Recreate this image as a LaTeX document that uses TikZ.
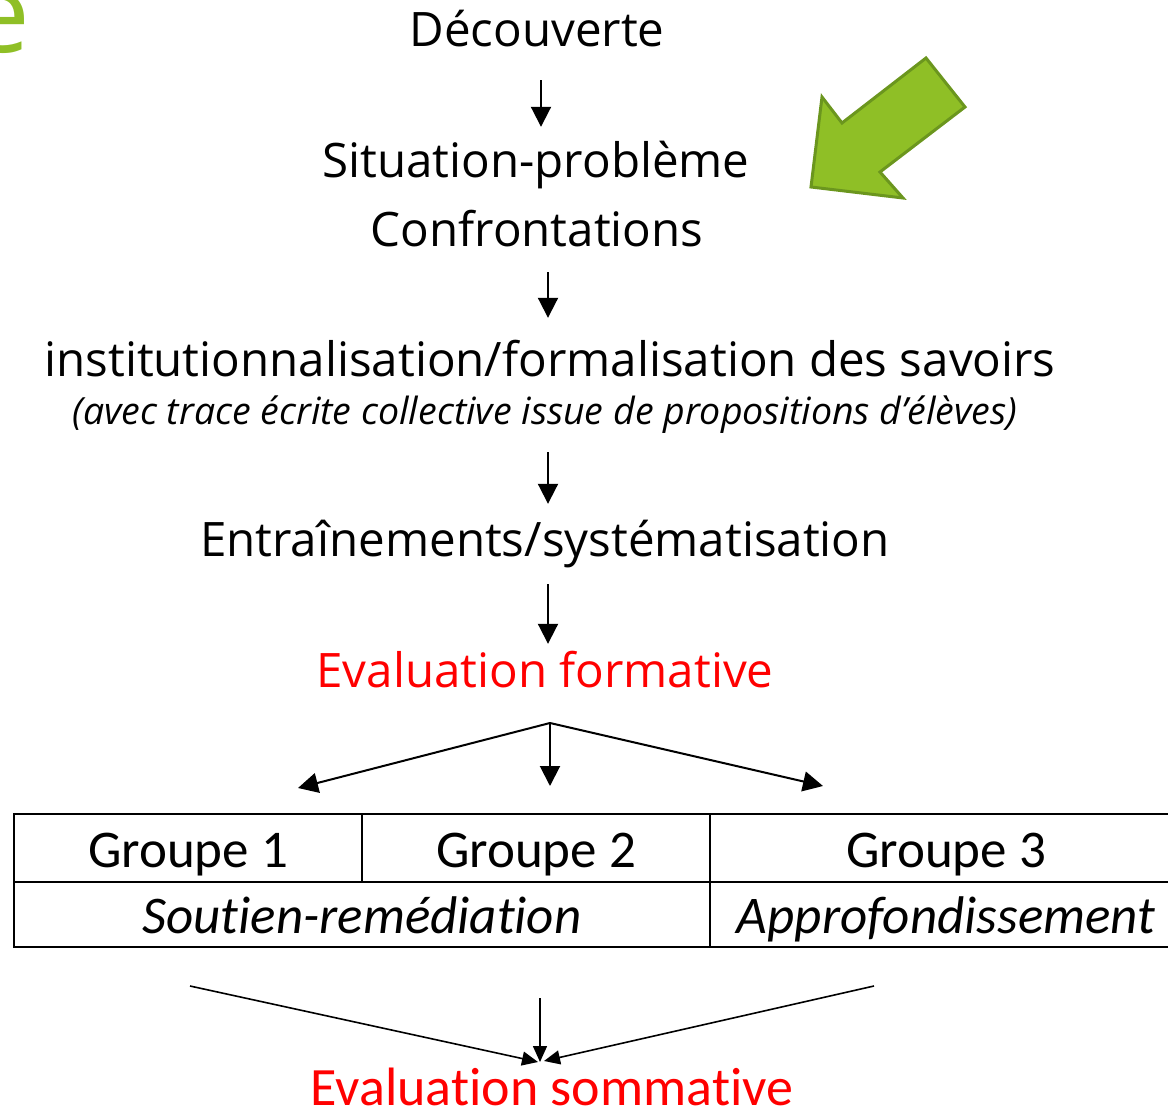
\documentclass[tikz,border=0pt]{standalone}
\usepackage{fontspec}
\setmainfont{Open Sans}
\newfontfamily\tabfont[Ligatures=NoCommon]{Carlito}
\usepackage{tikz}
\usetikzlibrary{arrows.meta, positioning, calc}

\definecolor{leafgreen}{RGB}{143,191,38}
\definecolor{leafdark}{RGB}{107,150,30}
\definecolor{evalred}{RGB}{255,0,0}

\begin{document}
\begin{tikzpicture}[x=1pt, y=-1pt,
    stage/.style={anchor=base, inner sep=0, text height=36pt, text depth=10pt,
      font=\fontsize{47.5}{50}\selectfont},
    note/.style={anchor=base, inner sep=0, text height=36pt, text depth=10pt,
      font=\fontsize{37.5}{40}\selectfont\itshape},
    cell/.style={draw, line width=2pt, inner sep=0, text height=48pt, text depth=10pt,
      font=\tabfont\fontsize{53}{56}\selectfont},
    flow/.style={line width=2pt, -{Triangle[length=20pt, width=20pt]}},
    merge/.style={line width=1.6pt, -{Triangle[length=16pt, width=14pt]}}]

  \useasboundingbox (0,0) rectangle (1168,1110);

  % green title tail and pointer
  \node[anchor=base east, inner sep=0, text=leafgreen, font=\fontsize{110}{110}\selectfont] (headtail) at (30,53) {e};
  \draw[leafdark, line width=3pt, fill=leafgreen] (811,187) -- (822,97) -- (842,123) -- (926,58)
    -- (965,107) -- (880,172) -- (903,198) -- cycle;

  % steps
  \node[stage] (decouv) at (537,47) {Découverte};
  \node[stage] (situ) at (536,178) {Situation-problème};
  \node[stage] (confr) at (537,247) {Confrontations};
  \node[stage] (instit) at (550,376) {institutionnalisation/formalisation des savoirs};
  \node[note] (trace) at (545,424) {(avec trace écrite collective issue de propositions d’élèves)};
  \node[stage] (entr) at (545,556) {Entraînements/systématisation};
  \node[stage, text=evalred] (evalf) at (545,687) {Evaluation formative};

  \draw[flow, shorten <=23pt, shorten >=15pt] ([xshift=4pt]decouv.south) -- ([xshift=5pt]situ.north);
  \draw[flow, shorten <=15pt, shorten >=22pt] ([xshift=11pt]confr.south) -- ([xshift=-2pt]instit.north);
  \draw[flow, shorten <=18pt, shorten >=16pt] ([xshift=3pt]trace.south) -- ([xshift=3pt]entr.north);
  \draw[flow, shorten <=18pt, shorten >=7pt] ([xshift=3pt]entr.south) -- ([xshift=3pt]evalf.north);

  % split towards the groups
  \coordinate (split) at (550,723);
  \coordinate (toG1) at (298,788);
  \coordinate (toG2) at (550,786);
  \coordinate (toG3) at (823,786);
  \draw[flow] (split) -- (toG1);
  \draw[flow] (split) -- (toG2);
  \draw[flow] (split) -- (toG3);

  % groups table
  \node[cell, minimum width=348pt, minimum height=68pt] (g1) at (188,848) {Groupe 1};
  \node[cell, minimum width=348pt, minimum height=68pt] (g2) at (536,848) {Groupe 2};
  \node[cell, minimum width=472pt, minimum height=68pt] (g3) at (946,848) {Groupe 3};
  \node[cell, minimum width=696pt, minimum height=65pt] (soutien) at (362,914.5) {\itshape Soutien-remédiation};
  \node[cell, minimum width=472pt, minimum height=65pt] (appro) at (946,914.5) {\itshape Approfondissement};

  % back together
  \coordinate (fromL) at (190,986);
  \coordinate (fromM) at (540,998);
  \coordinate (fromR) at (874,986);
  \coordinate (joinL) at (538,1062);
  \coordinate (joinM) at (540,1062);
  \coordinate (joinR) at (544,1061);
  \draw[merge] (fromL) -- (joinL);
  \draw[merge] (fromM) -- (joinM);
  \draw[merge] (fromR) -- (joinR);

  \node[anchor=base, inner sep=0, text=evalred, font=\tabfont\fontsize{54}{56}\selectfont] (evals) at (552,1105) {Evaluation sommative};
\end{tikzpicture}
\end{document}
